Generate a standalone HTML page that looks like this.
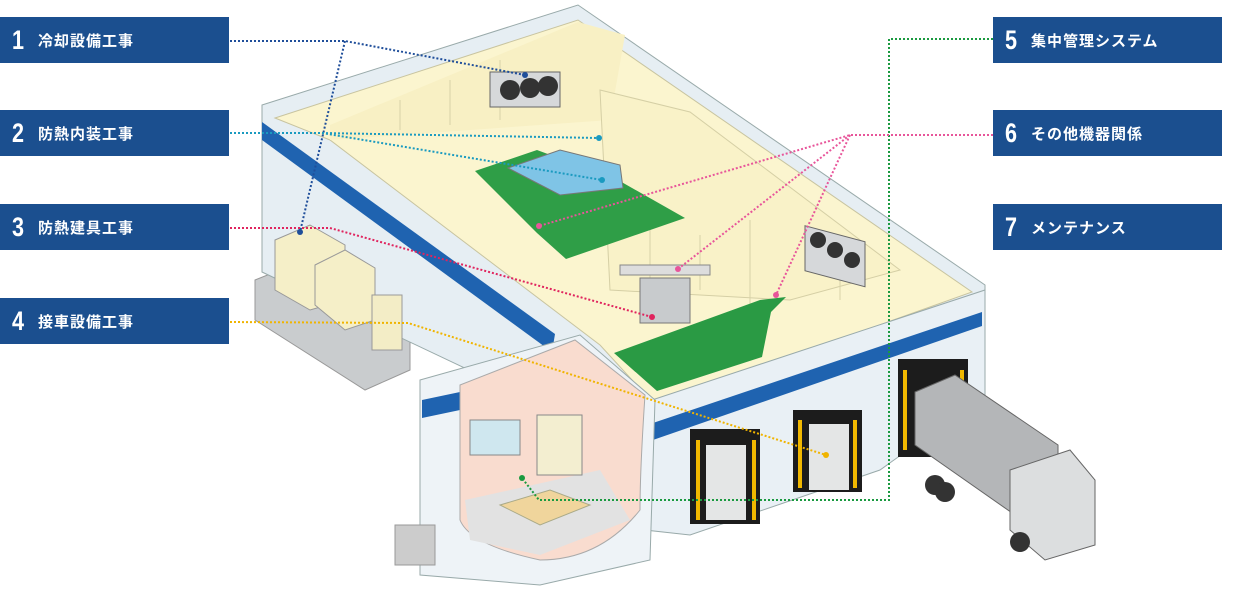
<!DOCTYPE html>
<html><head><meta charset="utf-8">
<style>
html,body{margin:0;padding:0;background:#fff;width:1236px;height:589px;overflow:hidden;position:relative;font-family:"Liberation Sans","Noto Sans CJK JP",sans-serif}
.lb{position:absolute;width:229px;height:46px;background:#1b4f8f;color:#fff;display:flex;align-items:center}
.lb .n{font-size:27px;font-weight:bold;width:40px;text-align:center;transform:scaleX(.8);margin-left:-2px}
.lb .t{font-size:15px;font-weight:bold;letter-spacing:1px;font-family:"Noto Sans CJK JP",sans-serif}
svg{position:absolute;left:0;top:0}
</style></head><body>
<svg width="1236" height="589" viewBox="0 0 1236 589">
<polygon points="255,280 300,262 410,330 410,370 365,390 255,320" fill="#c9ccce" stroke="#999" stroke-width="1"/>
<polygon points="262,105 578,5 985,285 985,300 652,420 585,425 262,272" fill="#e6eef3" stroke="#9aa" stroke-width="1"/>
<polygon points="262,122 262,140 552,352 555,334" fill="#1f63b0"/>
<polygon points="275,118 578,20 972,292 655,405 600,345 330,140" fill="#fbf5cf" stroke="#c8c4a0" stroke-width="1"/>
<polygon points="330,125 578,22 625,35 610,120 330,140" fill="#f8f0c4"/>
<polygon points="600,90 690,112 900,270 790,300 610,290" fill="#f9f2c8" stroke="#d5cfa5" stroke-width="1"/>
<g stroke="#d8d2a8" stroke-width="1">
<line x1="400" y1="100" x2="400" y2="130"/><line x1="450" y1="80" x2="450" y2="125"/><line x1="500" y1="60" x2="500" y2="120"/>
<line x1="650" y1="215" x2="650" y2="290"/><line x1="700" y1="235" x2="700" y2="290"/><line x1="750" y1="220" x2="750" y2="310"/><line x1="840" y1="250" x2="840" y2="300"/>
</g>
<polygon points="475,171 537,150 618,180 685,218 566,259 537,233" fill="#2f9e47"/>
<polygon points="614,353 760,300 786,297 771,312 762,357 657,391" fill="#2a9a44"/>
<polygon points="508,168 560,150 620,165 623,188 560,195" fill="#7fc4e6" stroke="#777" stroke-width="1"/>
<rect x="490" y="72" width="70" height="35" fill="#d6d8da" stroke="#666"/>
<circle cx="510" cy="90" r="10" fill="#333"/><circle cx="530" cy="88" r="10" fill="#333"/><circle cx="548" cy="86" r="10" fill="#333"/>
<rect x="805" y="225" width="60" height="45" fill="#d6d8da" stroke="#666" transform="skewY(15) translate(0,-215)"/>
<circle cx="818" cy="240" r="8" fill="#333"/><circle cx="835" cy="250" r="8" fill="#333"/><circle cx="852" cy="260" r="8" fill="#333"/>
<rect x="640" y="278" width="50" height="45" fill="#c8cbcd" stroke="#777"/>
<rect x="620" y="265" width="90" height="10" fill="#ddd" stroke="#888"/>
<polygon points="275,240 310,225 345,245 345,300 310,310 275,290" fill="#f5efc8" stroke="#999"/>
<polygon points="315,265 345,250 375,268 375,320 345,330 315,305" fill="#f5efc8" stroke="#999"/>
<rect x="372" y="295" width="30" height="55" fill="#f3edc6" stroke="#999"/>
<polygon points="652,400 985,290 985,395 880,470 690,535 645,530" fill="#e9f0f5" stroke="#9aa"/>
<polygon points="647,425 982,312 982,326 650,441" fill="#1f63b0"/>
<rect x="690" y="429" width="70" height="95" fill="#1c1c1c"/><rect x="706" y="445" width="40" height="75" fill="#e4e6e6"/><rect x="696" y="440" width="4" height="80" fill="#f1b800"/><rect x="752" y="440" width="4" height="80" fill="#f1b800"/>
<rect x="793" y="410" width="69" height="82" fill="#1c1c1c"/><rect x="809" y="424" width="40" height="66" fill="#e4e6e6"/><rect x="798" y="420" width="4" height="68" fill="#f1b800"/><rect x="853" y="420" width="4" height="68" fill="#f1b800"/>
<rect x="898" y="359" width="70" height="98" fill="#1c1c1c"/><rect x="903" y="370" width="4" height="80" fill="#f1b800"/><rect x="960" y="370" width="4" height="80" fill="#f1b800"/>
<polygon points="915,392 955,375 1058,445 1058,500 1015,515 915,445" fill="#b4b6b8" stroke="#666"/>
<polygon points="1010,470 1070,450 1095,480 1095,545 1045,560 1010,530" fill="#dcdedf" stroke="#666"/>
<circle cx="935" cy="485" r="10" fill="#333"/><circle cx="945" cy="492" r="10" fill="#333"/><circle cx="1020" cy="542" r="10" fill="#333"/>
<polygon points="420,380 580,335 655,400 650,560 540,585 420,575" fill="#eef3f7" stroke="#9aa"/>
<polygon points="422,400 460,392 460,410 422,418" fill="#1f63b0"/>
<path d="M460,385 L575,340 L645,395 Q640,470 640,510 Q600,560 540,560 Q470,545 460,520 Z" fill="#f9dccf" stroke="#aaa"/>
<polygon points="465,500 600,470 630,520 540,555 470,540" fill="#e2e2e2"/>
<rect x="470" y="420" width="50" height="35" fill="#cfe7ef" stroke="#888"/>
<rect x="537" y="415" width="45" height="60" fill="#f3eed0" stroke="#888"/>
<polygon points="500,505 550,490 590,505 540,525" fill="#f0d59c" stroke="#aa8"/>
<rect x="395" y="525" width="40" height="40" fill="#ccc" stroke="#999"/>
<g fill="none" stroke-width="2" stroke-dasharray="2,2">
<polyline points="230,41 345,41 525,75" stroke="#1f4e9a"/><line x1="345" y1="41" x2="300" y2="232" stroke="#1f4e9a"/>
<polyline points="230,133 322,133 599,138" stroke="#1a9ac0"/><line x1="322" y1="133" x2="602" y2="180" stroke="#1a9ac0"/>
<polyline points="230,228 330,228 652,317" stroke="#e0245e"/>
<polyline points="230,322 408,323 826,455" stroke="#f0b400"/>
<polyline points="993,39 889,39 889,500 539,500 522,478" stroke="#1a9a40"/>
<polyline points="993,135 850,135 539,226" stroke="#e8559a"/><line x1="850" y1="135" x2="678" y2="269" stroke="#e8559a"/><line x1="850" y1="135" x2="776" y2="295" stroke="#e8559a"/>
</g>
<g><circle cx="525" cy="75" r="3" fill="#1f4e9a"/><circle cx="300" cy="232" r="3" fill="#1f4e9a"/><circle cx="599" cy="138" r="3" fill="#1a9ac0"/><circle cx="602" cy="180" r="3" fill="#1a9ac0"/><circle cx="652" cy="317" r="3" fill="#e0245e"/><circle cx="826" cy="455" r="3" fill="#f0b400"/><circle cx="522" cy="478" r="3" fill="#1a9a40"/><circle cx="539" cy="226" r="3" fill="#e8559a"/><circle cx="678" cy="269" r="3" fill="#e8559a"/><circle cx="776" cy="295" r="3" fill="#e8559a"/></g>
</svg>
<div class="lb" style="left:0;top:17px"><span class="n">1</span><span class="t">冷却設備工事</span></div>
<div class="lb" style="left:0;top:110px"><span class="n">2</span><span class="t">防熱内装工事</span></div>
<div class="lb" style="left:0;top:204px"><span class="n">3</span><span class="t">防熱建具工事</span></div>
<div class="lb" style="left:0;top:298px"><span class="n">4</span><span class="t">接車設備工事</span></div>
<div class="lb" style="left:993px;top:17px"><span class="n">5</span><span class="t">集中管理システム</span></div>
<div class="lb" style="left:993px;top:110px"><span class="n">6</span><span class="t">その他機器関係</span></div>
<div class="lb" style="left:993px;top:204px"><span class="n">7</span><span class="t">メンテナンス</span></div>
</body></html>
